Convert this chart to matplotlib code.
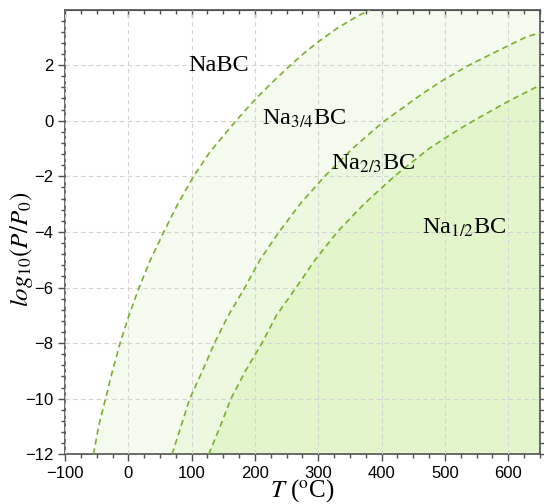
import numpy as np
import matplotlib.pyplot as plt
from matplotlib.ticker import MultipleLocator

# ---------- data ----------

# phase boundaries, temperature (degC) vs log10(P/P0)
t_nabc = [-55, -47, -36, -25, -13, 1, 17, 35, 56, 78, 103, 128, 150, 170,
          200, 230, 257, 280, 300, 330, 360, 381]
p_nabc = [-12, -11, -10, -9, -8, -7, -6, -5, -4, -3, -2, -1.15, -0.55, 0,
          0.76, 1.44, 2.02, 2.48, 2.84, 3.33, 3.74, 3.99]

t_na34 = [69, 83, 97, 117, 136, 158, 184, 208, 238, 271, 310, 354, 402, 466,
          500, 538, 600, 627, 650]
p_na34 = [-12, -11, -10, -9, -8, -7, -6, -5, -4, -3, -2, -1, -0.05, 1,
          1.5, 2, 2.7, 3, 3.17]

t_na23 = [127, 145, 162, 185, 211, 234, 265, 295, 330, 372, 420, 475, 512,
          545, 600, 650]
p_na23 = [-12, -11, -10, -9, -8, -7, -6, -5, -4, -3, -2, -1, -0.45,
          0, 0.7, 1.28]

phase_labels = ['NaBC', r'Na$_{3/4}$BC', r'Na$_{2/3}$BC', r'Na$_{1/2}$BC']
label_t = [142, 278, 386, 531]
label_p = [2.0, 0.05, -1.55, -3.85]

XLIM = (-100, 650)
YLIM = (-12, 3.98)

# ---------- style ----------

plt.rcParams['font.family'] = 'Liberation Sans'
plt.rcParams['mathtext.fontset'] = 'stix'

line_c = '#78b22c'
fills = ['#f5fbee', '#ecf8df', '#e3f6cb']
frame_c = '#505050'

fig = plt.figure(figsize=(5.44, 5.04), dpi=100)
ax = fig.add_axes([0.1195, 0.0986, 0.8731, 0.8814])

# ---------- shaded phase regions ----------

top = YLIM[1] + 1
ax.fill(t_nabc + [XLIM[1], XLIM[1]] + t_na34[::-1],
        p_nabc + [top, top] + p_na34[::-1], color=fills[0], lw=0, zorder=0)
ax.fill(t_na34 + t_na23[::-1], p_na34 + p_na23[::-1], color=fills[1], lw=0, zorder=0)
ax.fill(t_na23 + [XLIM[1]], p_na23 + [YLIM[0]], color=fills[2], lw=0, zorder=0)

for t, p in [(t_nabc, p_nabc), (t_na34, p_na34), (t_na23, p_na23)]:
    ax.plot(t, p, color=line_c, lw=1.2, dashes=(3.6, 2.4), zorder=3)

for s, t, p in zip(phase_labels, label_t, label_p):
    ax.text(t, p, s, ha='center', va='center', fontsize=17.5,
            family='Liberation Serif', zorder=4)

# ---------- axes ----------

ax.set_xlim(*XLIM)
ax.set_ylim(*YLIM)
ax.xaxis.set_major_locator(MultipleLocator(100))
ax.xaxis.set_minor_locator(MultipleLocator(25))
ax.yaxis.set_major_locator(MultipleLocator(2))
ax.yaxis.set_minor_locator(MultipleLocator(0.4))
ax.grid(True, which='major', color='#d4d4d4', linestyle=(0, (4, 3)), lw=0.8, zorder=1)
ax.set_axisbelow(False)

ax.tick_params(which='both', direction='out', colors=frame_c, labelcolor='black',
               labelsize=12, right=True, width=1)
ax.tick_params(which='major', length=5)
ax.tick_params(which='minor', length=3)

top_ax = ax.secondary_xaxis('top')
top_ax.xaxis.set_major_locator(MultipleLocator(100))
top_ax.xaxis.set_minor_locator(MultipleLocator(25))
top_ax.tick_params(which='both', direction='in', colors=frame_c, labeltop=False, width=1)
top_ax.tick_params(which='major', length=5)
top_ax.tick_params(which='minor', length=3)
top_ax.spines['top'].set_color(frame_c)

for sp in ax.spines.values():
    sp.set_color(frame_c)
    sp.set_linewidth(1.2)

ax.set_xlabel(r'$T$ ($^{\rm o}$C)', fontsize=18, family='Liberation Serif', labelpad=-2.5)
ax.set_ylabel(r'$log_{10}(P/P_0)$', fontsize=18)
ax.yaxis.set_label_coords(-0.064, 0.462)

fig.savefig('out.png', dpi=100)
